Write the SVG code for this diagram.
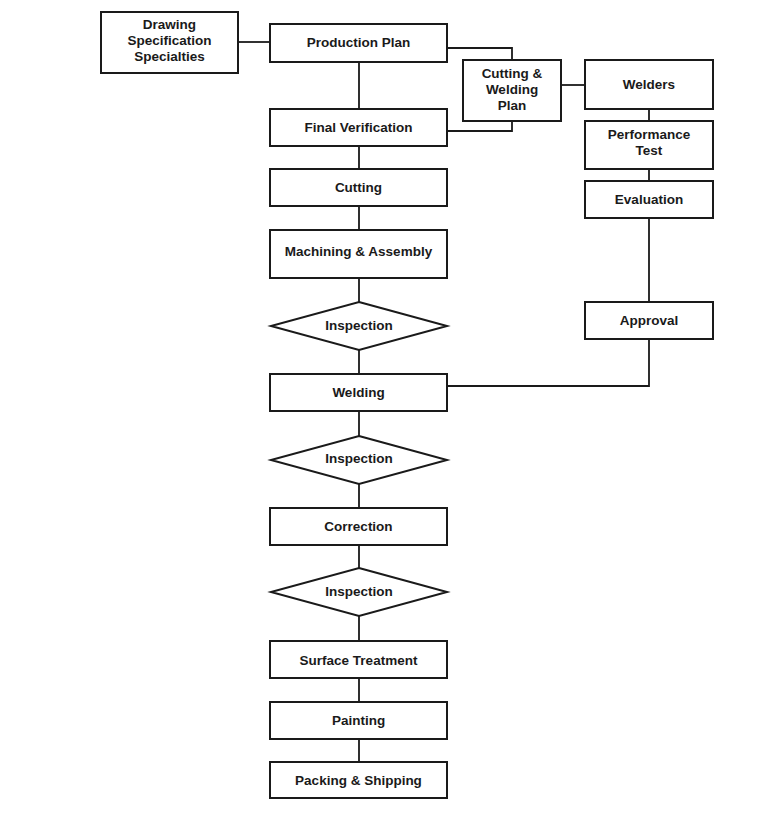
<svg xmlns="http://www.w3.org/2000/svg" width="768" height="815" viewBox="0 0 768 815">
<style>
.n{fill:#fff;stroke:#1a1a1a;stroke-width:2}
.t{font-family:"Liberation Sans",Arial,sans-serif;font-weight:bold;font-size:13.5px;fill:#1a1a1a;text-anchor:middle}
.c{fill:none;stroke:#1a1a1a;stroke-width:1.8}
</style>
<rect width="768" height="815" fill="#fff"/>
<g id="connectors">
<path class="c" d="M238 42H270"/>
<path class="c" d="M447 48H512V60"/>
<path class="c" d="M512 121V131H447"/>
<path class="c" d="M561 85H585"/>
<path class="c" d="M649 109V121M649 169V181M649 218V302"/>
<path class="c" d="M649 339V386H447"/>
<path class="c" d="M359 62V109M359 146V169M359 206V230M359 278V302M359 350V374M359 411V436M359 484V508M359 545V568M359 616V641M359 678V702M359 739V762"/>
</g>
<g id="drawing-spec"><rect class="n" x="101" y="12" width="137" height="61"/><text class="t" x="169.500" y="29">Drawing</text><text class="t" x="169.500" y="45">Specification</text><text class="t" x="169.500" y="61">Specialties</text></g>
<g id="production-plan"><rect class="n" x="270" y="24" width="177" height="38"/><text class="t" x="358.500" y="47">Production Plan</text></g>
<g id="cw-plan"><rect class="n" x="463" y="60" width="98" height="61"/><text class="t" x="512" y="78">Cutting &amp;</text><text class="t" x="512" y="94">Welding</text><text class="t" x="512" y="110">Plan</text></g>
<g id="final-verification"><rect class="n" x="270" y="109" width="177" height="37"/><text class="t" x="358.500" y="132">Final Verification</text></g>
<g id="welders"><rect class="n" x="585" y="60" width="128" height="49"/><text class="t" x="649" y="89">Welders</text></g>
<g id="performance-test"><rect class="n" x="585" y="121" width="128" height="48"/><text class="t" x="649" y="139">Performance</text><text class="t" x="649" y="155">Test</text></g>
<g id="evaluation"><rect class="n" x="585" y="181" width="128" height="37"/><text class="t" x="649" y="204">Evaluation</text></g>
<g id="cutting"><rect class="n" x="270" y="169" width="177" height="37"/><text class="t" x="358.500" y="192">Cutting</text></g>
<g id="machining"><rect class="n" x="270" y="230" width="177" height="48"/><text class="t" x="358.500" y="256">Machining &amp; Assembly</text></g>
<g id="inspection1"><polygon class="n" points="359,302 447,326 359,350 271,326"/><text class="t" x="359" y="330">Inspection</text></g>
<g id="approval"><rect class="n" x="585" y="302" width="128" height="37"/><text class="t" x="649" y="325">Approval</text></g>
<g id="welding"><rect class="n" x="270" y="374" width="177" height="37"/><text class="t" x="358.500" y="397">Welding</text></g>
<g id="inspection2"><polygon class="n" points="359,436 447,460 359,484 271,460"/><text class="t" x="359" y="463">Inspection</text></g>
<g id="correction"><rect class="n" x="270" y="508" width="177" height="37"/><text class="t" x="358.500" y="531">Correction</text></g>
<g id="inspection3"><polygon class="n" points="359,568 447,592 359,616 271,592"/><text class="t" x="359" y="596">Inspection</text></g>
<g id="surface-treatment"><rect class="n" x="270" y="641" width="177" height="37"/><text class="t" x="358.500" y="665">Surface Treatment</text></g>
<g id="painting"><rect class="n" x="270" y="702" width="177" height="37"/><text class="t" x="358.500" y="725">Painting</text></g>
<g id="packing"><rect class="n" x="270" y="762" width="177" height="36"/><text class="t" x="358.500" y="785">Packing &amp; Shipping</text></g>
</svg>
